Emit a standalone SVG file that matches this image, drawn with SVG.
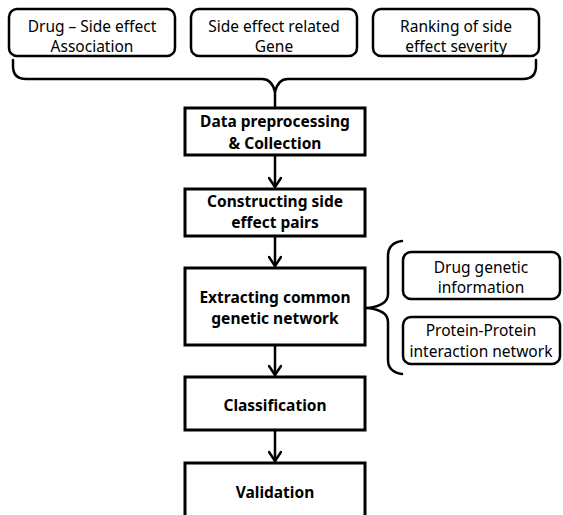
<svg xmlns="http://www.w3.org/2000/svg" width="563" height="515" viewBox="0 0 563 515">
<defs>
<style>
.rbox{fill:#fff;stroke:#000;stroke-width:2.5}
.fbox{fill:#fff;stroke:#000;stroke-width:3}
.t{font-family:"Noto Sans","DejaVu Sans",sans-serif;font-size:15.5px;fill:#000;text-anchor:middle}
.b{font-family:"Noto Sans","DejaVu Sans",sans-serif;font-size:15.5px;font-weight:bold;fill:#000;text-anchor:middle}
.ln{fill:none;stroke:#000;stroke-width:2.5;stroke-linecap:round;stroke-linejoin:round}
</style>
<marker id="arr" markerUnits="userSpaceOnUse" markerWidth="14" markerHeight="14" refX="12" refY="7" orient="auto">
<polyline points="3,1 12,7 3,13" fill="none" stroke="#000" stroke-width="2.5" stroke-linecap="round" stroke-linejoin="round"/>
</marker>
</defs>

<g id="src-drug-side-effect">
<rect class="rbox" x="9" y="9" width="166" height="47" rx="8"/>
<text class="t" x="92" y="32">Drug – Side effect</text>
<text class="t" x="92" y="52">Association</text>
</g>
<g id="src-gene">
<rect class="rbox" x="191" y="9" width="166" height="47" rx="8"/>
<text class="t" x="274" y="32">Side effect related</text>
<text class="t" x="274" y="52">Gene</text>
</g>
<g id="src-ranking">
<rect class="rbox" x="373" y="9" width="166" height="47" rx="8"/>
<text class="t" x="456" y="32">Ranking of side</text>
<text class="t" x="456" y="52">effect severity</text>
</g>

<g id="data-preprocessing">
<rect class="fbox" x="185" y="108" width="180" height="47"/>
<text class="b" x="275" y="127">Data preprocessing</text>
<text class="b" x="275" y="149">&amp; Collection</text>
</g>
<g id="constructing">
<rect class="fbox" x="185" y="189" width="180" height="47"/>
<text class="b" x="275" y="207">Constructing side</text>
<text class="b" x="275" y="228">effect pairs</text>
</g>
<g id="extracting">
<rect class="fbox" x="185" y="268" width="180" height="77"/>
<text class="b" x="275" y="303">Extracting common</text>
<text class="b" x="275" y="324">genetic network</text>
</g>
<g id="classification">
<rect class="fbox" x="185" y="377" width="180" height="53"/>
<text class="b" x="275" y="411">Classification</text>
</g>
<g id="validation">
<rect class="fbox" x="185" y="463" width="180" height="60"/>
<text class="b" x="275" y="498">Validation</text>
</g>

<g id="drug-genetic-info">
<rect class="rbox" x="403" y="252" width="157" height="47" rx="8"/>
<text class="t" x="481" y="273">Drug genetic</text>
<text class="t" x="481" y="293">information</text>
</g>
<g id="ppi-network">
<rect class="rbox" x="403" y="317" width="157" height="47" rx="8"/>
<text class="t" x="481" y="336">Protein-Protein</text>
<text class="t" x="481" y="357">interaction network</text>
</g>

<g id="connectors">
<path class="ln" d="M13,60 L13,66 Q13,79 26,79 L262,79 Q272,79 275,92 Q278,79 288,79 L523,79 Q536,79 536,66 L536,60"/>
<line class="ln" x1="275" y1="92" x2="275" y2="107"/>
<line class="ln" x1="275" y1="155" x2="275" y2="187" marker-end="url(#arr)"/>
<line class="ln" x1="275" y1="236" x2="275" y2="266" marker-end="url(#arr)"/>
<line class="ln" x1="275" y1="345" x2="275" y2="375" marker-end="url(#arr)"/>
<line class="ln" x1="275" y1="430" x2="275" y2="461" marker-end="url(#arr)"/>
<path class="ln" d="M402,241 Q388,243 388,256 L388,294 Q388,306 367,308 Q388,310 388,322 L388,360 Q388,372 402,374"/>
<line class="ln" x1="365" y1="308" x2="367" y2="308"/>
</g>
</svg>
